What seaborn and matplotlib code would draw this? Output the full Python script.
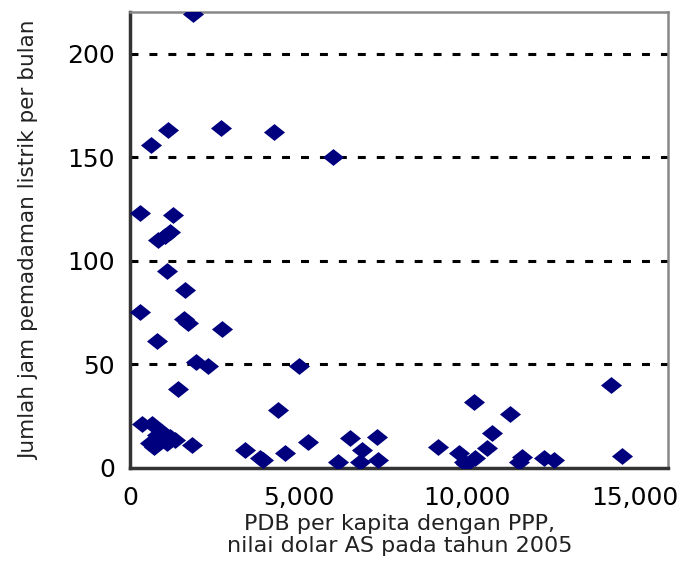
import matplotlib
matplotlib.use("Agg")
import matplotlib.pyplot as plt
from matplotlib.ticker import FuncFormatter
import seaborn as sns
import pandas as pd

# PDB per kapita (PPP, USD 2005) vs jam pemadaman listrik per bulan
gdp = [1870, 620, 1130, 2700, 4270, 6020, 300, 1280, 830, 1040, 1190,
       1100, 1630, 300, 1600, 1720, 800, 2730, 1960, 2310, 5010, 1420,
       4390, 350, 640, 940, 1190, 590, 1090, 1340, 1830, 800, 700,
       3410, 3860, 3950, 4600, 5290, 6170, 6530, 6880, 6830, 7330, 7360,
       9140, 9790, 9940, 10000, 10240, 10210, 10620, 10770, 11280, 11660,
       11570, 12310, 12610, 14300, 14630]
hours = [219, 156, 163, 164, 162, 150, 123, 122, 110, 112, 114,
         95, 86, 75, 72, 70, 61, 67, 51, 49, 49, 38,
         28, 21, 21, 17.5, 15, 12, 12, 13.5, 11, 16, 10,
         8.6, 4.8, 4, 7, 12.5, 3, 14.4, 8.6, 3, 15, 3.8,
         10, 7, 3, 2, 4.8, 32, 9.6, 17, 26, 5,
         3, 4.8, 3.8, 40, 5.8]
x_ticks = [0, 5000, 10000, 15000]
y_ticks = [0, 50, 100, 150, 200]

df = pd.DataFrame({"gdp": gdp, "hours": hours})

sns.set_style("white")
plt.rcParams['font.family'] = ['DejaVu Sans']

fig = plt.figure(figsize=(6.86, 5.84), dpi=100)
ax = fig.add_axes([0.19, 0.199, 0.784, 0.78])

# garis bantu horizontal putus-putus tebal
for v in y_ticks[1:]:
    ax.axhline(v, color="black", lw=2.2, ls=(0, (2.6, 3.6)), zorder=1)

# belah ketupat sedikit melebar
diamond = [(-1.25, 0), (0, 1), (1.25, 0), (0, -1), (-1.25, 0)]
sns.scatterplot(data=df, x="gdp", y="hours", ax=ax, marker=diamond,
                s=230, color="#00007f", linewidth=0, zorder=3)

ax.set_xlim(0, 16000)
ax.set_ylim(0, 220)
ax.set_xticks(x_ticks)
ax.set_yticks(y_ticks)
ax.xaxis.set_major_formatter(FuncFormatter(lambda v, p: f"{int(v):,}"))
ax.tick_params(axis="both", labelsize=18, colors="black", length=7,
               width=2, direction="out")
ax.tick_params(axis="x", pad=6)
ax.tick_params(axis="y", pad=4)

ax.set_xlabel("PDB per kapita dengan PPP,\nnilai dolar AS pada tahun 2005",
              fontsize=16, color="#222222", labelpad=3, linespacing=1.15)
ax.set_ylabel("Jumlah jam pemadaman listrik per bulan", fontsize=15.5,
              color="#222222", labelpad=20)

for side in ["left", "bottom"]:
    ax.spines[side].set_color("#333333")
    ax.spines[side].set_linewidth(2.5)
for side in ["top", "right"]:
    ax.spines[side].set_color("#888888")
    ax.spines[side].set_linewidth(1.8)

fig.savefig("out.png", dpi=100)
